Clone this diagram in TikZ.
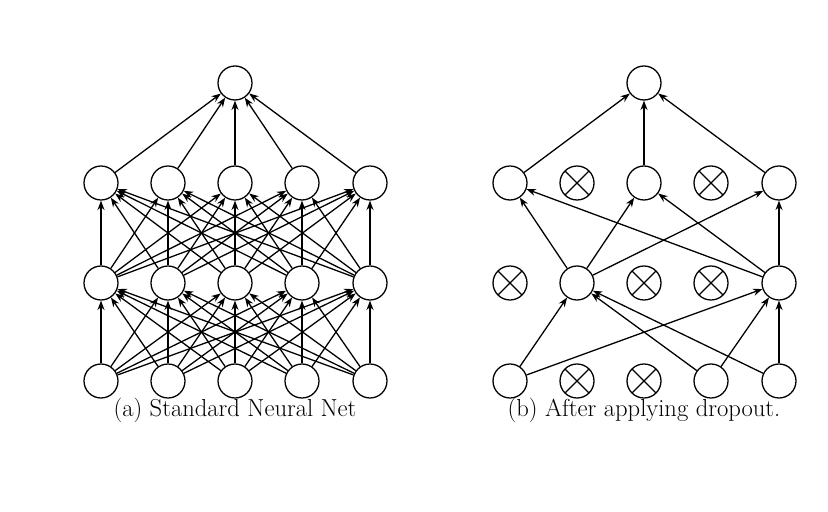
\documentclass[tikz,border=0pt]{standalone}
\usepackage{tikz}
\usetikzlibrary{arrows.meta}

\tikzset{
    unit/.style={circle, draw, line width=1.1pt, minimum size=1.02cm, inner sep=0pt, fill=white},
    dropped/.style={unit, path picture={
        \draw[line width=1.1pt] (path picture bounding box.south west) -- (path picture bounding box.north east)
            (path picture bounding box.north west) -- (path picture bounding box.south east);}},
    conn/.style={->, line width=1.1pt, >={Stealth[length=8pt,width=6pt]}},
    caption/.style={font=\fontsize{21}{24}\selectfont}
}

\begin{document}
\begin{tikzpicture}[x=0.03cm, y=-0.03cm]
    \useasboundingbox (0,0) rectangle (828,512);

    % (a) standard net
    \foreach \i/\x in {1/101, 2/168, 3/235, 4/302, 5/370} {
        \node[unit] (a1\i) at (\x,381) {};
        \node[unit] (a2\i) at (\x,283) {};
        \node[unit] (a3\i) at (\x,183) {};
    }
    \node[unit] (ao) at (235,83) {};
    \foreach \i in {1,...,5} {
        \foreach \j in {1,...,5} {
            \draw[conn] (a1\i) -- (a2\j);
            \draw[conn] (a2\i) -- (a3\j);
        }
        \draw[conn] (a3\i) -- (ao);
    }
    \node[caption] (capa) at (235,410) {(a) Standard Neural Net};

    % (b) after dropout
    \node[unit]    (b11) at (510,381) {};
    \node[dropped] (b12) at (577,381) {};
    \node[dropped] (b13) at (644,381) {};
    \node[unit]    (b14) at (711,381) {};
    \node[unit]    (b15) at (779,381) {};
    \node[dropped] (b21) at (510,283) {};
    \node[unit]    (b22) at (577,283) {};
    \node[dropped] (b23) at (644,283) {};
    \node[dropped] (b24) at (711,283) {};
    \node[unit]    (b25) at (779,283) {};
    \node[unit]    (b31) at (510,183) {};
    \node[dropped] (b32) at (577,183) {};
    \node[unit]    (b33) at (644,183) {};
    \node[dropped] (b34) at (711,183) {};
    \node[unit]    (b35) at (779,183) {};
    \node[unit]    (bo)  at (644,83) {};
    \foreach \s/\t in {b11/b22, b11/b25, b14/b22, b14/b25, b15/b22, b15/b25,
                       b22/b31, b22/b33, b22/b35, b25/b31, b25/b33, b25/b35,
                       b31/bo, b33/bo, b35/bo}
        \draw[conn] (\s) -- (\t);
    \node[caption] (capb) at (644,410) {(b) After applying dropout.};
\end{tikzpicture}
\end{document}
